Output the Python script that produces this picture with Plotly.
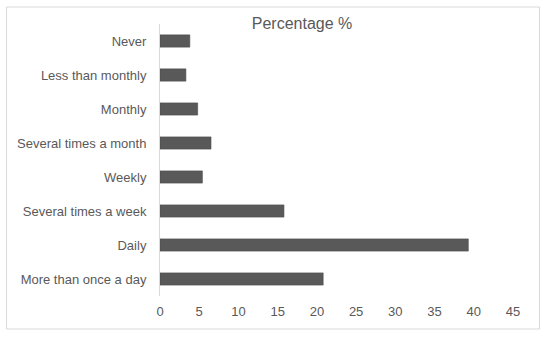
import plotly.graph_objects as go

categories = ["More than once a day", "Daily", "Several times a week", "Weekly",
              "Several times a month", "Monthly", "Less than monthly", "Never"]
percentages = [20.8, 39.3, 15.8, 5.4, 6.5, 4.8, 3.3, 3.8]
x_ticks = [0, 5, 10, 15, 20, 25, 30, 35, 40, 45]

L, R, T, B = 159.5, 37, 24, 44
W, H = 550, 340

fig = go.Figure(go.Bar(
    y=categories, x=percentages, orientation="h",
    marker=dict(color="#595959", line=dict(color="#4a4a4a", width=0.6)),
    width=0.36,
))

fig.update_layout(
    width=W, height=H,
    margin=dict(l=L, r=R, t=T, b=B),
    paper_bgcolor="white", plot_bgcolor="white",
    font=dict(family="Liberation Sans, Arial, sans-serif", size=13, color="#595959"),
    showlegend=False,
    title=dict(text="Percentage %", x=302 / W, xref="container", xanchor="center",
               y=1 - 23 / H, yref="container", yanchor="middle",
               font=dict(size=16, color="#595959")),
    xaxis=dict(range=[0, 45], tickvals=x_ticks, showgrid=False, zeroline=False,
               showline=False, ticks="", ticklabelstandoff=6, fixedrange=True),
    yaxis=dict(categoryorder="array", categoryarray=categories, showgrid=False,
               zeroline=False, showline=True, linecolor="#d9d9d9", linewidth=1,
               ticks="", ticklabelstandoff=10, range=[-0.5, 7.5], fixedrange=True),
    shapes=[dict(type="rect", xref="paper", yref="paper",
                 xsizemode="pixel", ysizemode="pixel", xanchor=0, yanchor=0,
                 x0=6 - L, x1=539 - L, y0=-(329 - (H - B)), y1=(H - B) - 7,
                 line=dict(color="#d9d9d9", width=1), fillcolor="rgba(0,0,0,0)")],
)

fig.write_html("out.html", config={"displayModeBar": False},
               post_script="document.body.style.margin='0';")
